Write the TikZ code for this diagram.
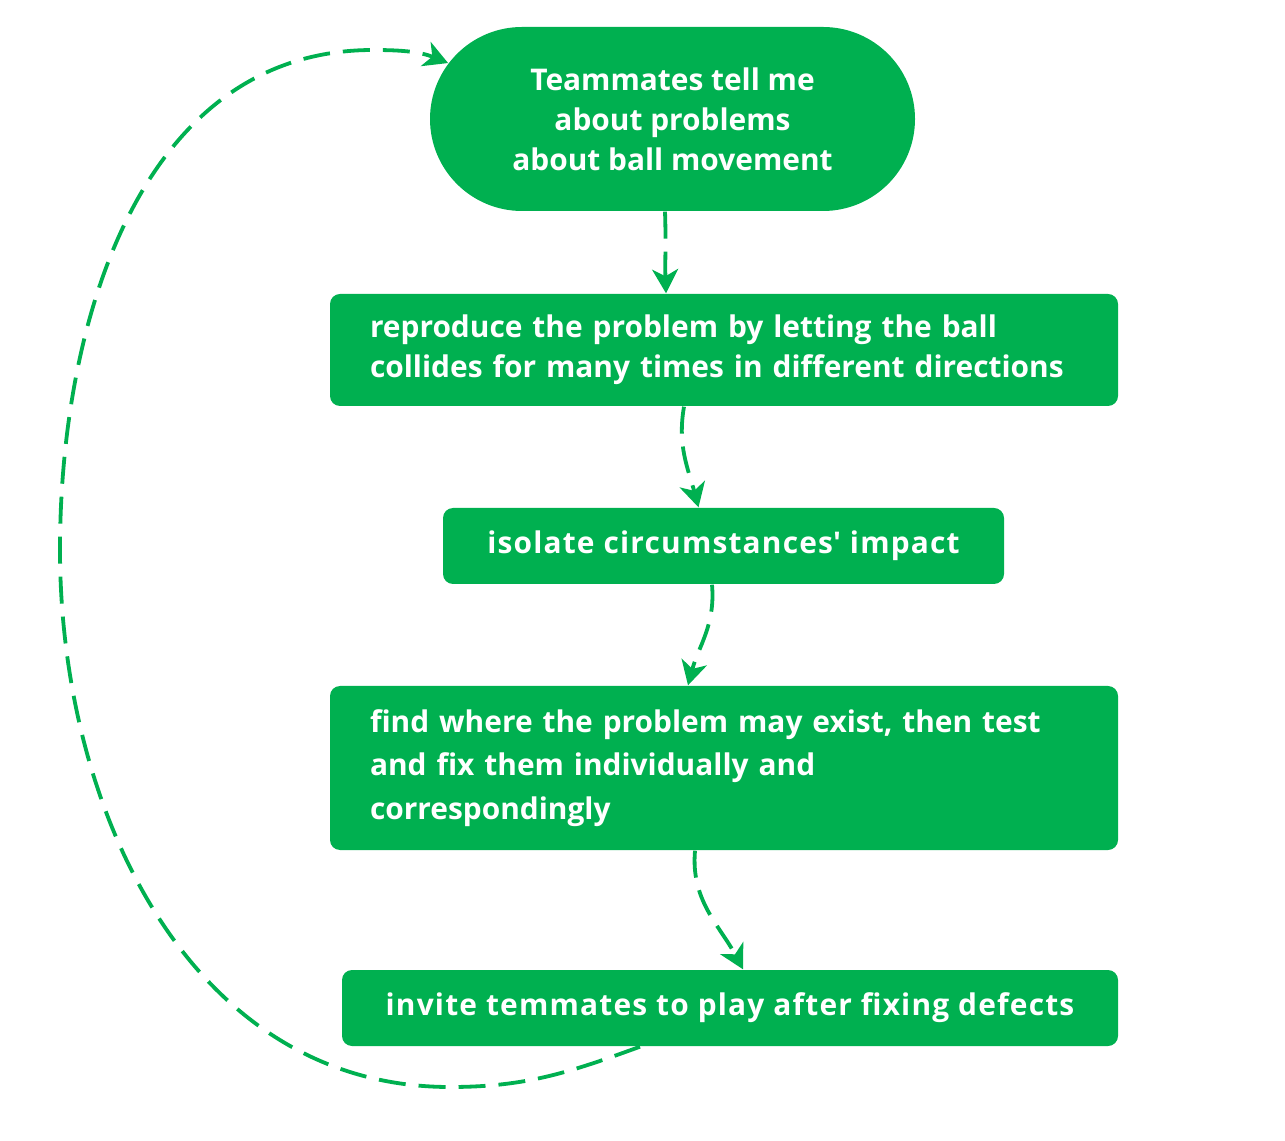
\documentclass[tikz,border=0pt]{standalone}
\usepackage{fontspec}
\setmainfont{Open Sans}
\usetikzlibrary{shapes.misc,arrows.meta}
\definecolor{flowgreen}{HTML}{00B050}

\begin{document}
\begin{tikzpicture}[
    every node/.style={font=\bfseries\fontsize{8.5pt}{11.4pt}\selectfont, text=white},
    pill/.style={rounded rectangle, fill=flowgreen, inner sep=0pt,
      minimum width=4.85cm, minimum height=1.84cm, align=center},
    box/.style={rectangle, rounded corners=0.1cm, fill=flowgreen, inner sep=0pt},
    wide/.style={font=\bfseries\fontsize{8.5pt}{11.4pt}\selectfont\addfontfeature{LetterSpace=4}},
    flow/.style={draw=flowgreen, line width=0.038cm, dash pattern=on 0.27cm off 0.13cm,
      -{Stealth[length=0.24cm, width=0.26cm, inset=0.07cm]}}
  ]
    \useasboundingbox (0,0) rectangle (12.85,11.40);
    % steps, top to bottom
    \node[pill] (tell) at (6.725,10.21) {Teammates tell me\\about problems\\about ball movement};
    \node[box, minimum width=7.88cm, minimum height=1.12cm, text width=7.08cm, align=left]
      (repro) at (7.24,7.90) {reproduce the problem by letting the ball\\collides for many times in different directions};
    \node[box, wide, minimum width=5.61cm, minimum height=0.76cm] (isolate) at (7.235,5.94)
      {isolate circumstances\textquotesingle\ impact};
    \node[box, minimum width=7.88cm, minimum height=1.64cm, text width=7.08cm, align=left,
      font=\bfseries\fontsize{8.5pt}{12.4pt}\selectfont]
      (fix) at (7.24,3.72) {find where the problem may exist, then test\\and fix them individually and\\correspondingly};
    \node[box, wide, minimum width=7.76cm, minimum height=0.76cm] (invite) at (7.30,1.32)
      {invite temmates to play after fixing defects};
    % connectors
    \draw[flow] ([xshift=-0.075cm]tell.south) to[out=-88, in=92] ([xshift=-0.58cm]repro.north);
    \draw[flow] ([xshift=-0.40cm]repro.south) to[out=-100, in=105] ([xshift=-0.25cm]isolate.north);
    \draw[flow] ([xshift=-0.115cm]isolate.south) to[out=-85, in=75] ([xshift=-0.36cm]fix.north);
    \draw[flow] ([xshift=-0.29cm]fix.south) to[out=-95, in=118] ([xshift=0.13cm]invite.north);
    \draw[flow] ([xshift=-0.90cm]invite.south) to[out=-160, in=0] (4.50,0.53)
      to[out=180, in=-90] (0.60,5.90) to[out=90, in=180] (3.73,10.90)
      to[out=0, in=158] (tell.166);
\end{tikzpicture}
\end{document}
